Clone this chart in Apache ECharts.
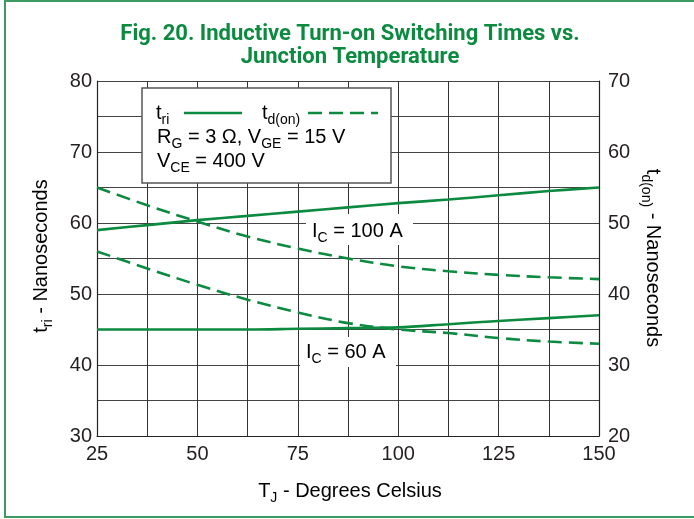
<!DOCTYPE html>
<html>
<head>
<meta charset="utf-8">
<script src="https://cdn.jsdelivr.net/npm/echarts@6/dist/echarts.min.js"></script>
<style>
  html, body { margin: 0; padding: 0; background: #fff; }
  #chart { width: 694px; height: 519px; }
</style>
</head>
<body>
<div id="chart"></div>
<script>
// Junction temperature (°C)
const tempC = [25, 37.5, 50, 62.5, 75, 87.5, 100, 112.5, 125, 137.5, 150];
// Current rise time t_ri (ns), left axis
const triIc100 = [59.0, 59.7, 60.4, 61.0, 61.6, 62.2, 62.8, 63.3, 63.9, 64.5, 65.0];
const triIc60  = [45.0, 45.0, 45.0, 45.0, 45.1, 45.2, 45.3, 45.75, 46.2, 46.6, 47.0];
// Turn-on delay time t_d(on) (ns), right axis
const tdonIc100 = [55.0, 52.5, 50.2, 48.1, 46.4, 45.0, 43.9, 43.2, 42.7, 42.35, 42.1];
const tdonIc60  = [46.0, 43.6, 41.3, 39.2, 37.4, 35.9, 35.0, 34.5, 33.8, 33.3, 33.0];
// Axis ticks
const xTicks = [25, 50, 75, 100, 125, 150];
const leftTicks = [30, 40, 50, 60, 70, 80];
const rightTicks = [20, 30, 40, 50, 60, 70];

const GREEN = '#0b8a40';
const INK = '#231f20';
const FONT = '"Liberation Sans", Arial, sans-serif';

const pair = (ys) => tempC.map((x, i) => [x, ys[i]]);

const subRich = (size) => ({
  m: { fontSize: size, fontFamily: FONT, color: INK, lineHeight: 28 },
  s: { fontSize: Math.round(size * 0.68), fontFamily: FONT, color: INK, lineHeight: 28, padding: [14, 0, 0, 0] }
});

const chart = echarts.init(document.getElementById('chart'), null, { renderer: 'canvas' });

const lineSeries = (name, data, yAxisIndex, dashed) => ({
  name, type: 'line', data: pair(data), yAxisIndex,
  smooth: 0.35, showSymbol: false, z: 3, silent: true,
  lineStyle: { color: GREEN, width: 2.6, type: dashed ? [14, 7] : 'solid', cap: 'butt' }
});

const tickLabel = (margin, list) => ({
  margin, fontSize: 20, fontFamily: FONT, color: INK,
  formatter: (v) => list.includes(v) ? String(v) : ''
});

chart.setOption({
  animation: false,
  backgroundColor: '#fff',
  grid: { left: 97, right: 95, top: 81, bottom: 83, containLabel: false },
  xAxis: {
    type: 'value', min: 25, max: 150, interval: 12.5,
    axisLine: { show: true, lineStyle: { color: '#222', width: 1.2 } },
    axisTick: { show: false },
    axisLabel: tickLabel(8, xTicks),
    splitLine: { show: true, lineStyle: { color: '#333', width: 1 } }
  },
  yAxis: [
    {
      type: 'value', min: 30, max: 80, interval: 5, position: 'left',
      axisLine: { show: true, lineStyle: { color: '#222', width: 1.2 } },
      axisTick: { show: false },
      axisLabel: tickLabel(5, leftTicks),
      splitLine: { show: true, lineStyle: { color: '#444', width: 1 } }
    },
    {
      type: 'value', min: 20, max: 70, interval: 5, position: 'right',
      axisLine: { show: true, lineStyle: { color: '#222', width: 1.2 } },
      axisTick: { show: false },
      axisLabel: tickLabel(9, rightTicks),
      splitLine: { show: false }
    }
  ],
  series: [
    lineSeries('t_ri, IC = 100 A', triIc100, 0, false),
    lineSeries('t_ri, IC = 60 A', triIc60, 0, false),
    lineSeries('t_d(on), IC = 100 A', tdonIc100, 1, true),
    lineSeries('t_d(on), IC = 60 A', tdonIc60, 1, true)
  ],
  graphic: [
    // outer frame
    {
      type: 'rect', z: 10, silent: true,
      shape: { x: 5, y: 1, width: 700, height: 516 },
      style: { fill: 'none', stroke: '#3c9a62', lineWidth: 2 }
    },
    // title
    {
      type: 'text', z: 10, x: 350, y: 46,
      style: {
        text: 'Fig. 20. Inductive Turn-on Switching Times vs.\nJunction Temperature',
        align: 'center', verticalAlign: 'middle', lineHeight: 23,
        font: 'bold 22px Roboto, "Liberation Sans", sans-serif', fill: GREEN
      }
    },
    // axis names
    {
      type: 'text', z: 10, x: 41, y: 256, rotation: Math.PI / 2,
      style: {
        text: '{m|t}{s|ri}{m| - Nanoseconds}', rich: subRich(20),
        align: 'center', verticalAlign: 'middle'
      }
    },
    {
      type: 'text', z: 10, x: 653, y: 258, rotation: -Math.PI / 2,
      style: {
        text: '{m|t}{s|d(on)}{m| - Nanoseconds}', rich: subRich(20),
        align: 'center', verticalAlign: 'middle'
      }
    },
    {
      type: 'text', z: 10, x: 350, y: 491,
      style: {
        text: '{m|T}{s|J}{m| - Degrees Celsius}', rich: subRich(20),
        align: 'center', verticalAlign: 'middle'
      }
    },
    // legend box
    {
      type: 'rect', z: 5, silent: true,
      shape: { x: 142, y: 88, width: 249, height: 95 },
      style: { fill: '#fff', stroke: '#555', lineWidth: 1.5 }
    },
    {
      type: 'text', z: 6, x: 156, y: 113,
      style: { text: '{m|t}{s|ri}', rich: subRich(20), verticalAlign: 'middle' }
    },
    {
      type: 'line', z: 6, silent: true,
      shape: { x1: 184, y1: 113, x2: 242, y2: 113 },
      style: { stroke: GREEN, lineWidth: 2.6 }
    },
    {
      type: 'text', z: 6, x: 262, y: 113,
      style: { text: '{m|t}{s|d(on)}', rich: subRich(20), verticalAlign: 'middle' }
    },
    {
      type: 'line', z: 6, silent: true,
      shape: { x1: 308, y1: 113, x2: 378, y2: 113 },
      style: { stroke: GREEN, lineWidth: 2.6, lineDash: [14, 7] }
    },
    {
      type: 'text', z: 6, x: 157, y: 137,
      style: {
        text: '{m|R}{s|G}{m| = 3 Ω, V}{s|GE}{m| = 15 V}', rich: subRich(20),
        verticalAlign: 'middle'
      }
    },
    {
      type: 'text', z: 6, x: 157, y: 161,
      style: {
        text: '{m|V}{s|CE}{m| = 400 V}', rich: subRich(20),
        verticalAlign: 'middle'
      }
    },
    // curve group labels
    {
      type: 'rect', z: 1, silent: true,
      shape: { x: 306, y: 214, width: 107, height: 31 },
      style: { fill: '#fff' }
    },
    {
      type: 'text', z: 6, x: 312, y: 231,
      style: { text: '{m|I}{s|C}{m| = 100 A}', rich: subRich(20), verticalAlign: 'middle' }
    },
    {
      type: 'rect', z: 1, silent: true,
      shape: { x: 300, y: 337, width: 96, height: 30 },
      style: { fill: '#fff' }
    },
    {
      type: 'text', z: 6, x: 306, y: 352,
      style: { text: '{m|I}{s|C}{m| = 60 A}', rich: subRich(20), verticalAlign: 'middle' }
    }
  ]
});
</script>
</body>
</html>
